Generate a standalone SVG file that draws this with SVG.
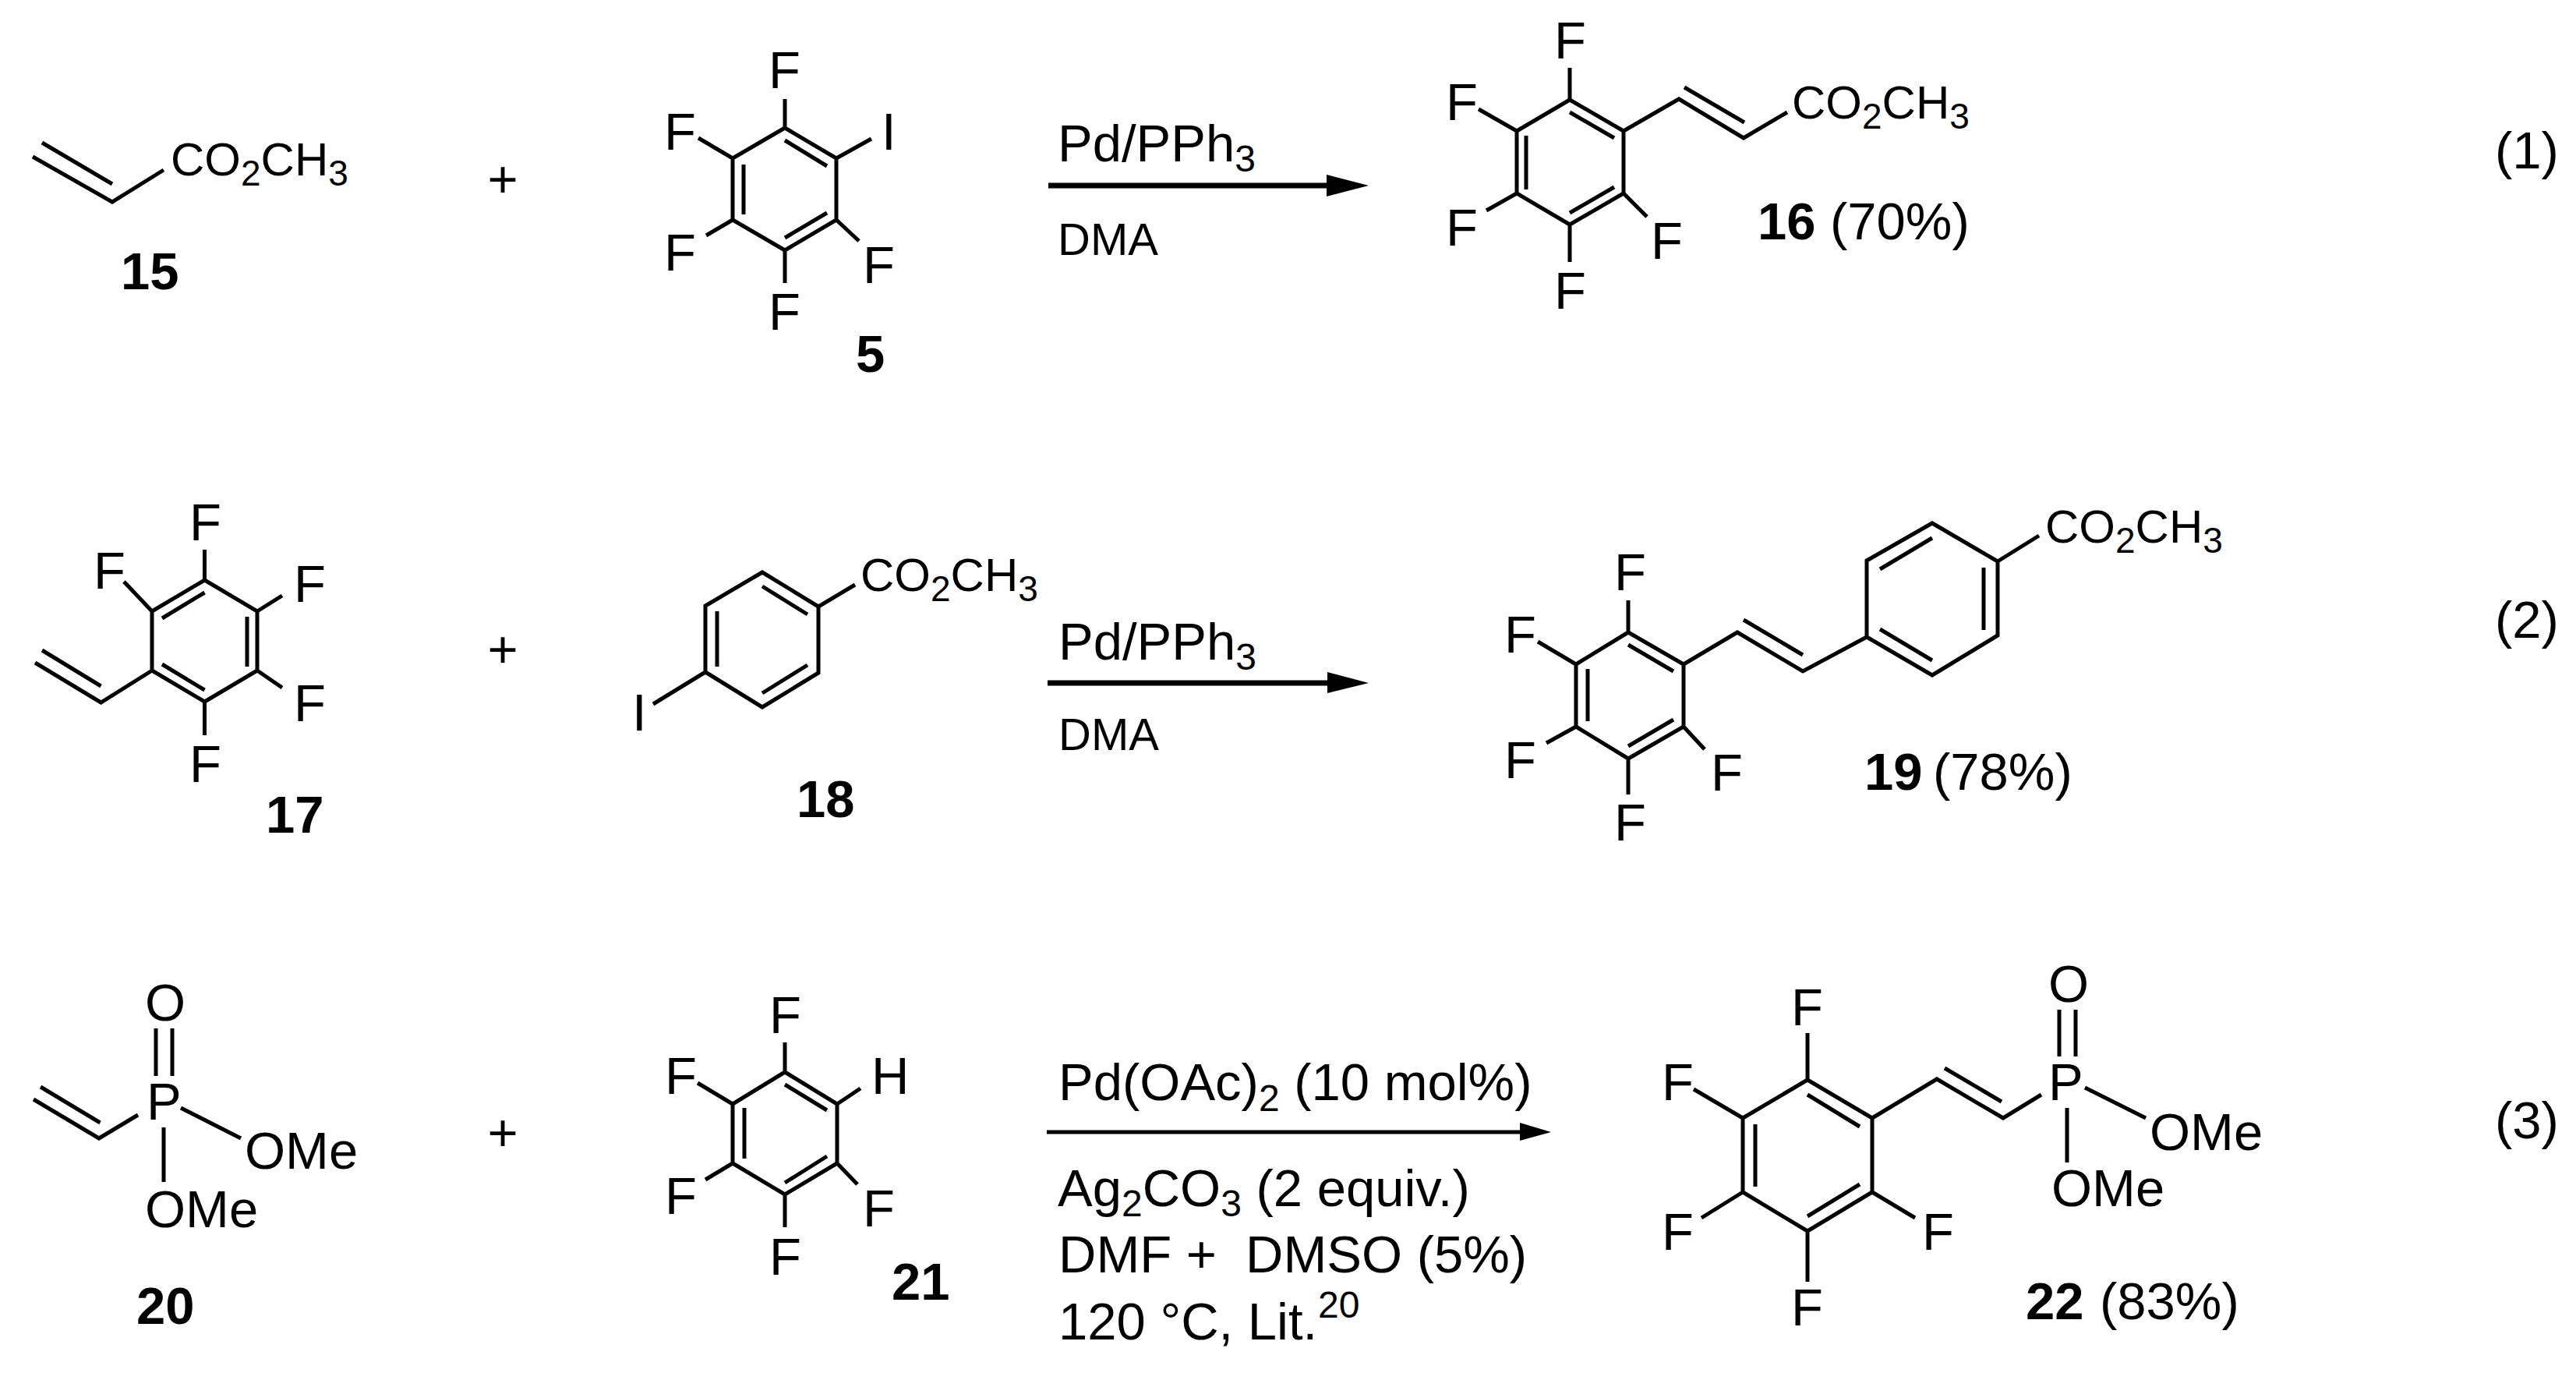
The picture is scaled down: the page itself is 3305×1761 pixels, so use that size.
<svg xmlns="http://www.w3.org/2000/svg" width="3305" height="1761" viewBox="0 0 3305 1761">
<style>
text{font-family:"Liberation Sans",Arial,sans-serif;font-size:67px;fill:#000;white-space:pre}
.b{font-weight:bold}
.s{font-size:60px}
.d{font-size:58px}
.sub{font-size:46px}
.sub2{font-size:48px}
.bond{fill:none;stroke:#000;stroke-width:5;stroke-linejoin:miter;stroke-linecap:butt}
</style>
<rect width="3305" height="1761" fill="#fff"/>
<g id="c15">
<path class="bond" d="M42 201L144 259L210 218M54 183L144 236"/>
<text class="s" x="219" y="225">CO<tspan class="sub" dy="13">2</tspan><tspan dy="-13">CH</tspan><tspan class="sub" dy="13">3</tspan></text>
<text class="b" x="155" y="371">15</text>
</g>
<text id="plus-1" x="645" y="253" text-anchor="middle">+</text>
<g id="c5">
<path class="bond" d="M1007 164L1073 203L1073 282L1007 321L940 282L940 203ZM954 211L954 275M1007 180L1061 213M1007 305L1061 273M1007 127L1007 164M940 203L896 177M940 282L906 302M1007 321L1007 363M1073 203L1118 178M1073 282L1102 309"/>
<text x="986" y="113">F</text><text x="852" y="192">F</text><text x="852" y="347">F</text><text x="986" y="423">F</text><text x="1107" y="363">F</text><text x="1131" y="192">I</text>
<text class="b" x="1098" y="477">5</text>
</g>
<g id="c16">
<path class="bond" d="M2014 128L2083 168L2083 248L2014 288L1946 248L1946 168ZM1958 174L1958 243M2014 144L2071 177M2014 273L2071 240M2014 128L2014 87M1946 168L1897 140M1946 248L1907 270M2014 288L2014 336M2083 248L2113 278M2083 168L2154 127L2237 177L2293 144M2161 112L2238 157"/>
<text x="1994" y="75">F</text><text x="1855" y="154">F</text><text x="1855" y="315">F</text><text x="1994" y="396">F</text><text x="2118" y="332">F</text>
<text class="s" x="2299" y="152">CO<tspan class="sub" dy="13">2</tspan><tspan dy="-13">CH</tspan><tspan class="sub" dy="13">3</tspan></text>
<text class="b" x="2255" y="307">16</text><text x="2348" y="307">(70%)</text>
</g>
<g id="c17">
<path class="bond" d="M262.500 744L330 784L330 860L262.500 900L195 860L195 784ZM317 791L317 855M262.500 760L208 793M262.500 885L208 852M195 860L129.500 901L45 850M54 834L129.500 880M262.500 744L262.500 705M195 784L159 746M330 784L362 764M330 860L362 882M262.500 900L262.500 943"/>
<text x="243" y="693">F</text><text x="120" y="755">F</text><text x="377" y="772">F</text><text x="377" y="925">F</text><text x="243" y="1003">F</text>
<text class="b" x="341" y="1068">17</text>
</g>
<text id="plus-2" x="645" y="856" text-anchor="middle">+</text>
<g id="c18">
<path class="bond" d="M978 734L1050 778L1050 863L978 907L905 862L905 777ZM920 784L920 855M978 752L1036 788M978 889L1036 853M1050 778L1097 750M905 862L838 903"/>
<text x="811" y="937">I</text>
<text class="s" x="1104" y="758">CO<tspan class="sub" dy="13">2</tspan><tspan dy="-13">CH</tspan><tspan class="sub" dy="13">3</tspan></text>
<text class="b" x="1022" y="1048">18</text>
</g>
<g id="c19">
<path class="bond" d="M2089 811L2160 852L2160 932L2089 973L2022 932L2022 852ZM2037 858L2037 925M2089 827L2147 861M2089 957L2147 923M2089 811L2089 770M2022 852L1973 823M2022 932L1984 953M2089 973L2089 1019M2160 932L2187 961M2160 852L2229 811L2313 861L2395 817M2237 795L2313 840M2395 817L2395 719L2479 671L2563 720L2563 815L2479 866ZM2545 728L2545 808M2479 690L2412 730M2412 807L2479 847M2563 720L2616 687"/>
<text x="2071" y="757">F</text><text x="1930" y="837">F</text><text x="1930" y="998">F</text><text x="2071" y="1078">F</text><text x="2195" y="1014">F</text>
<text class="s" x="2624" y="696">CO<tspan class="sub" dy="13">2</tspan><tspan dy="-13">CH</tspan><tspan class="sub" dy="13">3</tspan></text>
<text class="b" x="2392" y="1013">19</text><text x="2480" y="1013">(78%)</text>
</g>
<g id="c20">
<path class="bond" d="M43 1410L127 1460L177 1430M52 1394L128.500 1440M200 1319L200 1380M221 1319L221 1380M232 1421L309 1460M210 1446L210 1516"/>
<text x="188" y="1436">P</text><text x="186" y="1309">O</text><text x="314" y="1499">OMe</text><text x="186" y="1574">OMe</text>
<text class="b" x="175" y="1698">20</text>
</g>
<text id="plus-3" x="645" y="1476" text-anchor="middle">+</text>
<g id="c21">
<path class="bond" d="M1007 1375L1074 1416L1074 1492L1007 1532L940 1492L940 1416ZM955 1421L955 1486M1007 1391L1061 1424M1007 1517L1061 1483M1007 1375L1007 1337M940 1416L895 1389M1074 1416L1104 1396M940 1492L905 1513M1074 1492L1100 1519M1007 1532L1007 1574"/>
<text x="987" y="1325">F</text><text x="853" y="1403">F</text><text x="1118" y="1403">H</text><text x="853" y="1557">F</text><text x="1107" y="1573">F</text><text x="987" y="1635">F</text>
<text class="b" x="1144" y="1667">21</text>
</g>
<g id="c22">
<path class="bond" d="M2319 1385L2402 1434L2402 1529L2319 1579L2236 1529L2236 1434ZM2252 1442L2252 1522M2319 1404L2386 1445M2319 1560L2386 1519M2319 1385L2319 1325M2236 1434L2173 1397M2236 1529L2183 1562M2402 1529L2457 1562M2319 1579L2319 1644M2402 1434L2485 1384L2570 1434L2619 1404M2495 1370L2568 1413M2642 1295L2642 1355M2663 1295L2663 1355M2675 1395L2753 1434M2652 1421L2652 1491"/>
<text x="2298" y="1315">F</text><text x="2132" y="1411">F</text><text x="2132" y="1603">F</text><text x="2466" y="1603">F</text><text x="2298" y="1700">F</text>
<text x="2628" y="1411">P</text><text x="2628" y="1285">O</text><text x="2758" y="1475">OMe</text><text x="2632" y="1547">OMe</text>
<text class="b" x="2599" y="1692">22</text><text x="2694" y="1692">(83%)</text>
</g>
<g id="connectors">
<path d="M1345 238H1710" stroke="#000" stroke-width="7"/><path d="M1702 224L1756 238L1702 252Z"/>
<path d="M1344 876H1710" stroke="#000" stroke-width="7"/><path d="M1703 862L1756 876L1703 889Z"/>
<path d="M1343 1452H1955" stroke="#000" stroke-width="5"/><path d="M1950 1440L1990 1452L1950 1463Z"/>
</g>
<g id="conditions">
<text x="1357" y="207">Pd/PPh<tspan class="sub2" dy="13">3</tspan></text>
<text class="d" x="1357" y="327">DMA</text>
<text x="1358" y="846">Pd/PPh<tspan class="sub2" dy="13">3</tspan></text>
<text class="d" x="1358" y="962">DMA</text>
<text x="1358" y="1411">Pd(OAc)<tspan class="sub2" dy="14">2</tspan><tspan dy="-14"> (10 mol%)</tspan></text>
<text x="1357" y="1547">Ag<tspan class="sub2" dy="13">2</tspan><tspan dy="-13">CO</tspan><tspan class="sub2" dy="13">3</tspan><tspan dy="-13"> (2 equiv.)</tspan></text>
<text x="1358" y="1632">DMF +  DMSO (5%)</text>
<text x="1358" y="1718">120 °C, Lit.</text><text class="sub2" x="1691" y="1690">20</text>
</g>
<g id="equation-numbers">
<text x="3201" y="216">(1)</text><text x="3201" y="818">(2)</text><text x="3201" y="1460">(3)</text>
</g>
</svg>
